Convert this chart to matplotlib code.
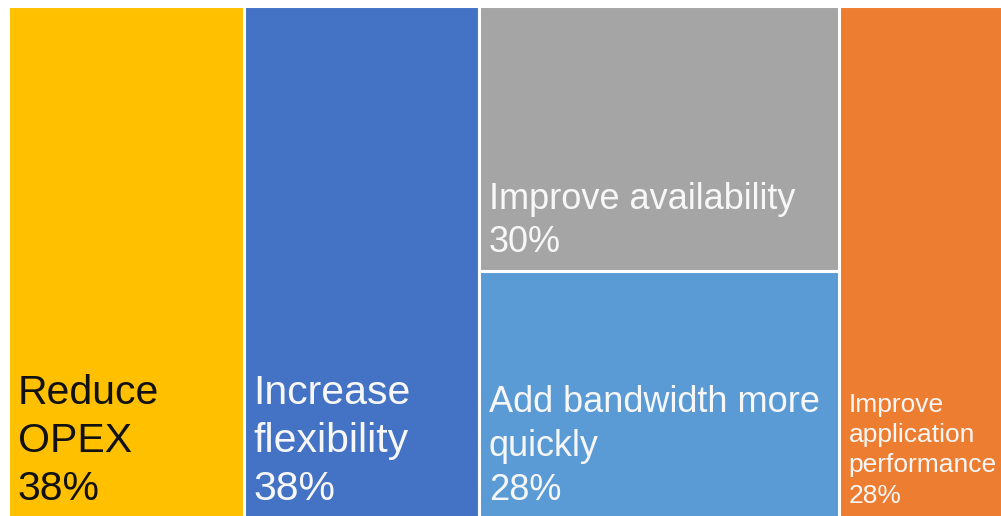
import matplotlib.pyplot as plt
from matplotlib.patches import Rectangle

plt.rcParams['font.family'] = ['Liberation Sans', 'DejaVu Sans']

# share of respondents per driver, grouped into treemap columns
labels = ["Reduce\nOPEX", "Increase\nflexibility", "Improve availability",
          "Add bandwidth more\nquickly", "Improve\napplication\nperformance"]
values = [38, 38, 30, 28, 28]
columns = [[0], [1], [2, 3], [4]]
colors = ["#FFC000", "#4472C4", "#A5A5A5", "#5B9BD5", "#ED7D31"]
text_colors = ["#111111", "#F7F7F7", "#F7F7F7", "#F7F7F7", "#F7F7F7"]
font_sizes = [29.5, 29.5, 26, 26, 19]

W, H = 1001, 516
fig = plt.figure(figsize=(W / 100, H / 100), dpi=100)
total = sum(sum(values[i] for i in col) for col in columns)
px_per_unit = 6.2
left_px, top_px, bottom_px = 8, 6, 518
ax = fig.add_axes([left_px / W, (H - bottom_px) / H,
                   total * px_per_unit / W, (bottom_px - top_px) / H])
ax.set_xlim(0, total)
ax.set_ylim(0, 1)
ax.axis('off')

x = 0
for col in columns:
    col_w = sum(values[i] for i in col)
    y_top = 1.0
    for i in col:
        h = values[i] / col_w
        y0 = y_top - h
        ax.add_patch(Rectangle((x, y0), col_w, h, facecolor=colors[i],
                               edgecolor='white', linewidth=2.2, clip_on=False))
        ax.annotate(f"{labels[i]}\n{values[i]}%", xy=(x, y0), xytext=(7, 7.5),
                    textcoords='offset points', ha='left', va='bottom',
                    fontsize=font_sizes[i], color=text_colors[i],
                    linespacing=1.33, annotation_clip=False)
        y_top = y0
    x += col_w

fig.savefig("out.png", dpi=100)
